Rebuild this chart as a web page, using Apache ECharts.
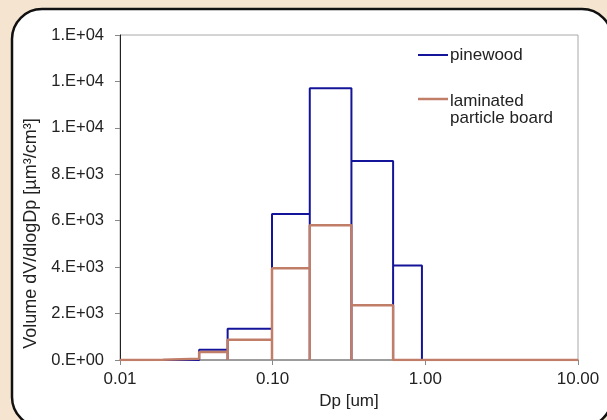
<!DOCTYPE html>
<html>
<head>
<meta charset="utf-8">
<script src="https://cdn.jsdelivr.net/npm/echarts@6/dist/echarts.min.js"></script>
<style>
html,body{margin:0;padding:0;background:#f5e4cf;}
#c{width:607px;height:420px;}
</style>
</head>
<body>
<div id="c"></div>
<script>
// bin edges (um)
var binEdges = [0.0137, 0.0191, 0.033, 0.0507, 0.099, 0.175, 0.328, 0.615, 0.95];
// dV/dlogDp per bin
var pinewood = [0, 0, 440, 1350, 6290, 11710, 8570, 4070];
var laminated = [15, 50, 350, 870, 3950, 5800, 2360, 0];
var seriesNames = ['pinewood', 'laminated\nparticle board'];
var yTickLabels = ['0.E+00', '2.E+03', '4.E+03', '6.E+03', '8.E+03', '1.E+04', '1.E+04', '1.E+04'];
var xRange = [0.01, 10];

function stepPoints(edges, vals) {
  var pts = [[xRange[0], 0]];
  for (var i = 0; i < vals.length; i++) {
    pts.push([edges[i], 0], [edges[i], vals[i]], [edges[i + 1], vals[i]], [edges[i + 1], 0]);
  }
  pts.push([xRange[1], 0]);
  return pts;
}

var FONT = '"Liberation Sans", Arial, sans-serif';
var BLUE = '#14149a';
var BROWN = '#c07d68';

var chart = echarts.init(document.getElementById('c'), null, {renderer: 'canvas'});
chart.setOption({
  backgroundColor: '#f5e4cf',
  animation: false,
  grid: {left: 120, right: 29, top: 35, bottom: 60, show: true, borderColor: '#a8a8a8', borderWidth: 1, backgroundColor: 'transparent'},
  graphic: [
    {type: 'rect', z: -10, shape: {x: 12, y: 9, width: 600, height: 418, r: 30},
     style: {fill: '#ffffff', stroke: '#111', lineWidth: 2.5}},
    {type: 'line', z: 10, shape: {x1: 418, y1: 55, x2: 448, y2: 55}, style: {stroke: BLUE, lineWidth: 2}},
    {type: 'text', z: 10, left: 450, top: 47, style: {text: seriesNames[0], font: '17px ' + FONT, fill: '#222'}},
    {type: 'line', z: 10, shape: {x1: 418, y1: 99, x2: 448, y2: 99}, style: {stroke: BROWN, lineWidth: 2.5}},
    {type: 'text', z: 10, left: 450, top: 93, style: {text: seriesNames[1], font: '17px ' + FONT, fill: '#222', lineHeight: 17}}
  ],
  xAxis: {
    type: 'log', logBase: 10, min: xRange[0], max: xRange[1],
    name: 'Dp [um]', nameLocation: 'middle', nameGap: 29,
    nameTextStyle: {fontFamily: FONT, fontSize: 17, color: '#222'},
    axisLine: {lineStyle: {color: '#8a8a8a', width: 1.5}},
    axisTick: {show: true, length: 5, lineStyle: {color: '#888'}},
    minorTick: {show: false},
    splitLine: {show: false},
    axisLabel: {fontFamily: FONT, fontSize: 17, color: '#222', margin: 11,
      formatter: function (v) { return Number(v).toFixed(2); }}
  },
  yAxis: {
    type: 'value', min: 0, max: 14000, interval: 2000,
    name: 'Volume dV/dlogDp [µm³/cm³]', nameLocation: 'middle', nameGap: 77, nameRotate: 90,
    nameTextStyle: {fontFamily: FONT, fontSize: 18, color: '#222', padding: [0, 72, 0, 0]},
    axisLine: {show: true, lineStyle: {color: '#222', width: 1}},
    axisTick: {show: true, length: 5, lineStyle: {color: '#888'}},
    splitLine: {show: false},
    axisLabel: {fontFamily: FONT, fontSize: 16.5, color: '#222', margin: 16,
      formatter: function (v) { return yTickLabels[Math.round(v / 2000)]; }}
  },
  series: [
    {name: 'pinewood', type: 'line', data: stepPoints(binEdges, pinewood), showSymbol: false, symbol: 'none',
     lineStyle: {color: BLUE, width: 2}, itemStyle: {color: BLUE}, z: 2},
    {name: 'laminated particle board', type: 'line', data: stepPoints(binEdges, laminated), showSymbol: false, symbol: 'none',
     lineStyle: {color: BROWN, width: 2.5}, itemStyle: {color: BROWN}, z: 3}
  ]
});
</script>
</body>
</html>
